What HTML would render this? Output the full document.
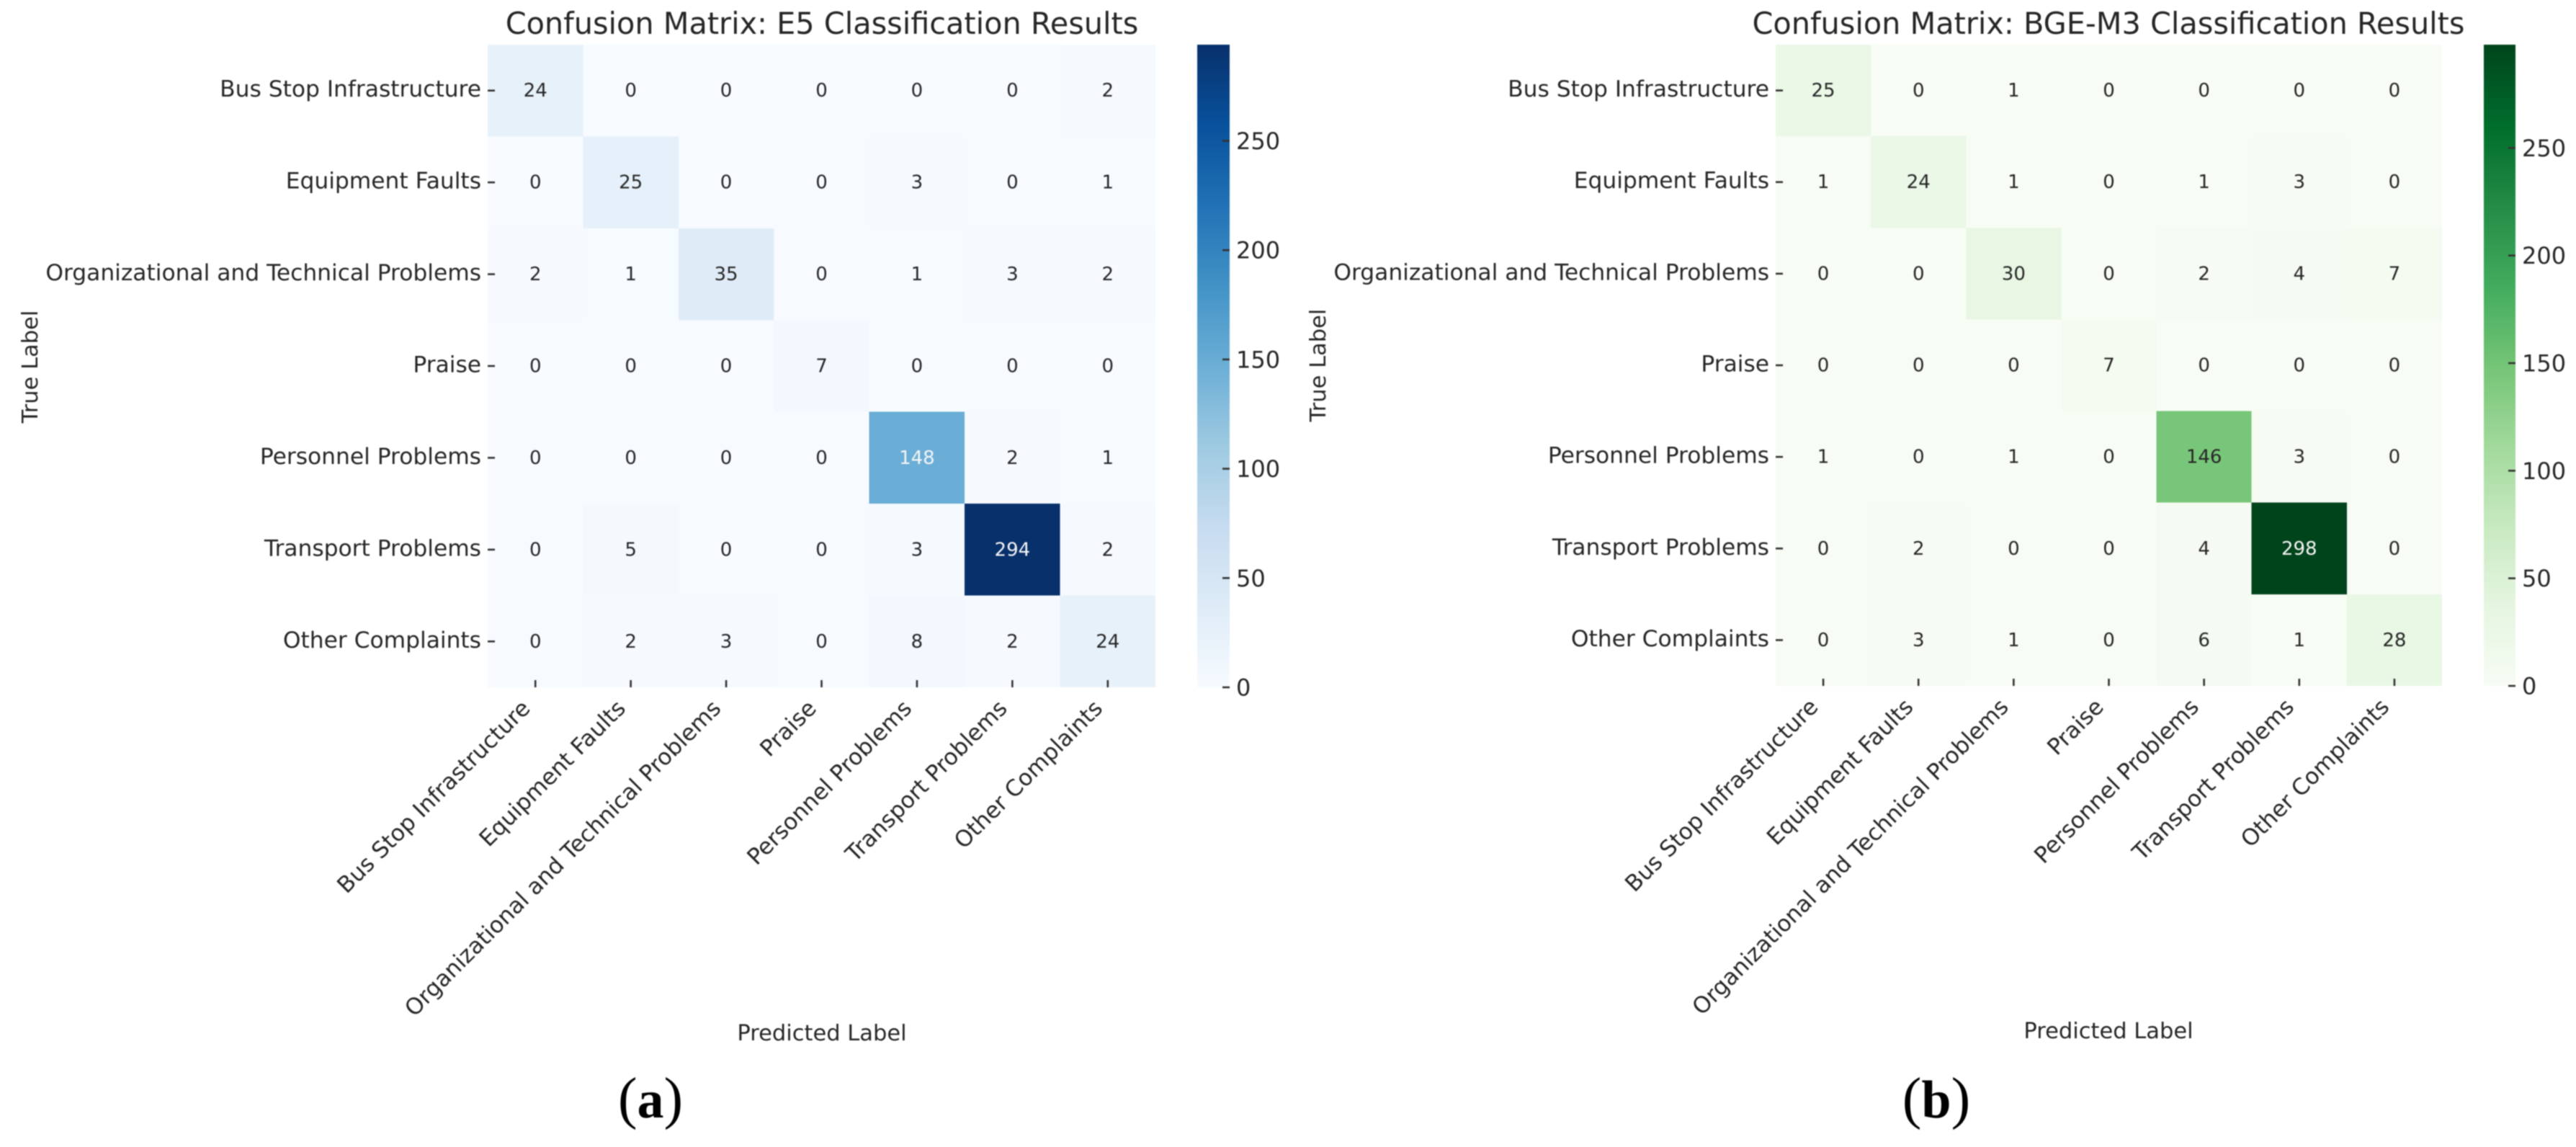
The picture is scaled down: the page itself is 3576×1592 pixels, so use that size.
<!DOCTYPE html>
<html lang="en">
<head>
<meta charset="utf-8">
<title>Confusion matrices: E5 and BGE-M3</title>
<style>
html,body{margin:0;padding:0;background:#fff;}
body{width:3576px;height:1592px;overflow:hidden;}
svg{display:block;filter:blur(0.7px);}
text{font-family:"DejaVu Sans","Liberation Sans",sans-serif;fill:#262626;}
.caption{font-family:"Liberation Serif",serif;font-size:80px;fill:#000;}
.caption tspan{font-size:74px;font-weight:bold;}
</style>
</head>
<body>
<svg id="figure" xmlns="http://www.w3.org/2000/svg" width="3576" height="1592" viewBox="0 0 3576 1592">
  <rect width="3576" height="1592" fill="#fff"/>
  <defs id="gradients"></defs>

  <g id="panel-a">
    <text x="1141" y="47" font-size="41.4" text-anchor="middle">Confusion Matrix: E5 Classification Results</text>
    <text transform="translate(52 509) rotate(-90)" font-size="30.5" text-anchor="middle">True Label</text>
    <text x="1141" y="1444" font-size="30.5" text-anchor="middle">Predicted Label</text>
  </g>
  <text class="caption" x="903" y="1551" text-anchor="middle">(<tspan>a</tspan>)</text>

  <g id="panel-b">
    <text x="2927" y="47" font-size="41.4" text-anchor="middle">Confusion Matrix: BGE-M3 Classification Results</text>
    <text transform="translate(1840 507) rotate(-90)" font-size="30.5" text-anchor="middle">True Label</text>
    <text x="2927" y="1441" font-size="30.5" text-anchor="middle">Predicted Label</text>
  </g>
  <text class="caption" x="2688" y="1551" text-anchor="middle">(<tspan>b</tspan>)</text>
</svg>

<script>
const categories = ["Bus Stop Infrastructure", "Equipment Faults", "Organizational and Technical Problems", "Praise", "Personnel Problems", "Transport Problems", "Other Complaints"];
const e5Values = [
  [24, 0, 0, 0, 0, 0, 2],
  [0, 25, 0, 0, 3, 0, 1],
  [2, 1, 35, 0, 1, 3, 2],
  [0, 0, 0, 7, 0, 0, 0],
  [0, 0, 0, 0, 148, 2, 1],
  [0, 5, 0, 0, 3, 294, 2],
  [0, 2, 3, 0, 8, 2, 24]
];
const bgeValues = [
  [25, 0, 1, 0, 0, 0, 0],
  [1, 24, 1, 0, 1, 3, 0],
  [0, 0, 30, 0, 2, 4, 7],
  [0, 0, 0, 7, 0, 0, 0],
  [1, 0, 1, 0, 146, 3, 0],
  [0, 2, 0, 0, 4, 298, 0],
  [0, 3, 1, 0, 6, 1, 28]
];
const colorbarTicks = [0, 50, 100, 150, 200, 250];
const blues = ["#f7fbff", "#deebf7", "#c6dbef", "#9ecae1", "#6baed6", "#4292c6", "#2171b5", "#08519c", "#08306b"];
const greens = ["#f7fcf5", "#e5f5e0", "#c7e9c0", "#a1d99b", "#74c476", "#41ab5d", "#238b45", "#006d2c", "#00441b"];

const NS = "http://www.w3.org/2000/svg";

function make(tag, parent) {
  const el = document.createElementNS(NS, tag);
  parent.appendChild(el);
  return el;
}
function setAll(el, attrs) {
  for (const k in attrs) el.setAttribute(k, attrs[k]);
}
function rgbOf(hex) {
  return [1, 3, 5].map(i => parseInt(hex.slice(i, i + 2), 16));
}
function sampleMap(anchors, t) {
  const p = Math.max(0, Math.min(1, t)) * (anchors.length - 1);
  const i = Math.min(Math.floor(p), anchors.length - 2);
  const f = p - i;
  const a = rgbOf(anchors[i]);
  const b = rgbOf(anchors[i + 1]);
  return a.map((v, k) => Math.round(v + (b[k] - v) * f));
}
function luminance(rgb) {
  const c = rgb.map(v => {
    const s = v / 255;
    return s <= 0.03928 ? s / 12.92 : Math.pow((s + 0.055) / 1.055, 2.4);
  });
  return 0.2126 * c[0] + 0.7152 * c[1] + 0.0722 * c[2];
}

function drawPanel(groupId, prefix, values, anchors, box, bar) {
  const root = document.getElementById(groupId);
  const n = categories.length;
  const vmax = Math.max(...values.flat());
  const xScale = c => box.left + (box.right - box.left) * (c / n);
  const yScale = r => box.top + (box.bottom - box.top) * (r / n);
  const barScale = v => bar.bottom - (bar.bottom - bar.top) * (v / vmax);

  const cells = make("g", root);
  
  
  cells.setAttribute("shape-rendering", "crispEdges");

  const annots = make("g", root);
  
  

  values.forEach((row, r) => {
    row.forEach((v, c) => {
      const rgb = sampleMap(anchors, v / vmax);
      const cell = make("rect", cells);
      
      
      setAll(cell, {
        x: xScale(c), y: yScale(r),
        width: xScale(c + 1) - xScale(c), height: yScale(r + 1) - yScale(r),
        fill: "rgb(" + rgb.join(",") + ")"
      });

      const label = make("text", annots);
      
      
      setAll(label, {
        x: xScale(c + 0.5), y: yScale(r + 0.5) + 8.5,
        "font-size": 26, "text-anchor": "middle"
      });
      label.style.fill = luminance(rgb) > 0.408 ? "#262626" : "#f5f5f5";
      label.textContent = v;
    });
  });

  categories.forEach((name, i) => {
    const yMid = yScale(i + 0.5);
    const xMid = xScale(i + 0.5);

    const yTick = make("line", root);
    
    
    setAll(yTick, { x1: box.left, x2: box.left + 10, y1: yMid, y2: yMid, stroke: "#333", "stroke-width": 2.6 });

    const yLabel = make("text", root);
    
    
    setAll(yLabel, { x: box.left - 9, y: yMid + 8.5, "font-size": 31.3, "text-anchor": "end" });
    yLabel.textContent = name;

    const xTick = make("line", root);
    
    
    setAll(xTick, { x1: xMid, x2: xMid, y1: box.bottom - 10, y2: box.bottom, stroke: "#333", "stroke-width": 2.6 });

    const xLabel = make("text", root);
    
    
    setAll(xLabel, {
      transform: "translate(" + (xMid - 5.5) + " " + (box.bottom + 31) + ") rotate(-45)",
      "font-size": 31.3, "text-anchor": "end"
    });
    xLabel.textContent = name;
  });

  const defs = document.getElementById("gradients");
  const grad = make("linearGradient", defs);
  setAll(grad, { id: prefix + "-gradient", x1: 0, y1: 1, x2: 0, y2: 0 });
  anchors.forEach((hex, i) => {
    const stop = make("stop", grad);
    setAll(stop, { offset: i / (anchors.length - 1), "stop-color": hex });
  });

  const barRect = make("rect", root);
  
  
  setAll(barRect, {
    x: bar.left, y: bar.top, width: bar.right - bar.left, height: bar.bottom - bar.top,
    fill: "url(#" + prefix + "-gradient)"
  });

  colorbarTicks.forEach(t => {
    const y = barScale(t);
    const tick = make("line", root);
    
    
    setAll(tick, { x1: bar.right - 10, x2: bar.right, y1: y, y2: y, stroke: "#333", "stroke-width": 2.6 });

    const label = make("text", root);
    
    
    setAll(label, { x: bar.right + 9, y: y + 11.5, "font-size": 32 });
    label.textContent = t;
  });
}

drawPanel("panel-a", "e5", e5Values, blues,
  { left: 677, right: 1604, top: 62, bottom: 954 },
  { left: 1662, right: 1707, top: 62, bottom: 954 });
drawPanel("panel-b", "bge-m3", bgeValues, greens,
  { left: 2465, right: 3390, top: 62, bottom: 952 },
  { left: 3448, right: 3492, top: 62, bottom: 952 });
</script>
</body>
</html>
